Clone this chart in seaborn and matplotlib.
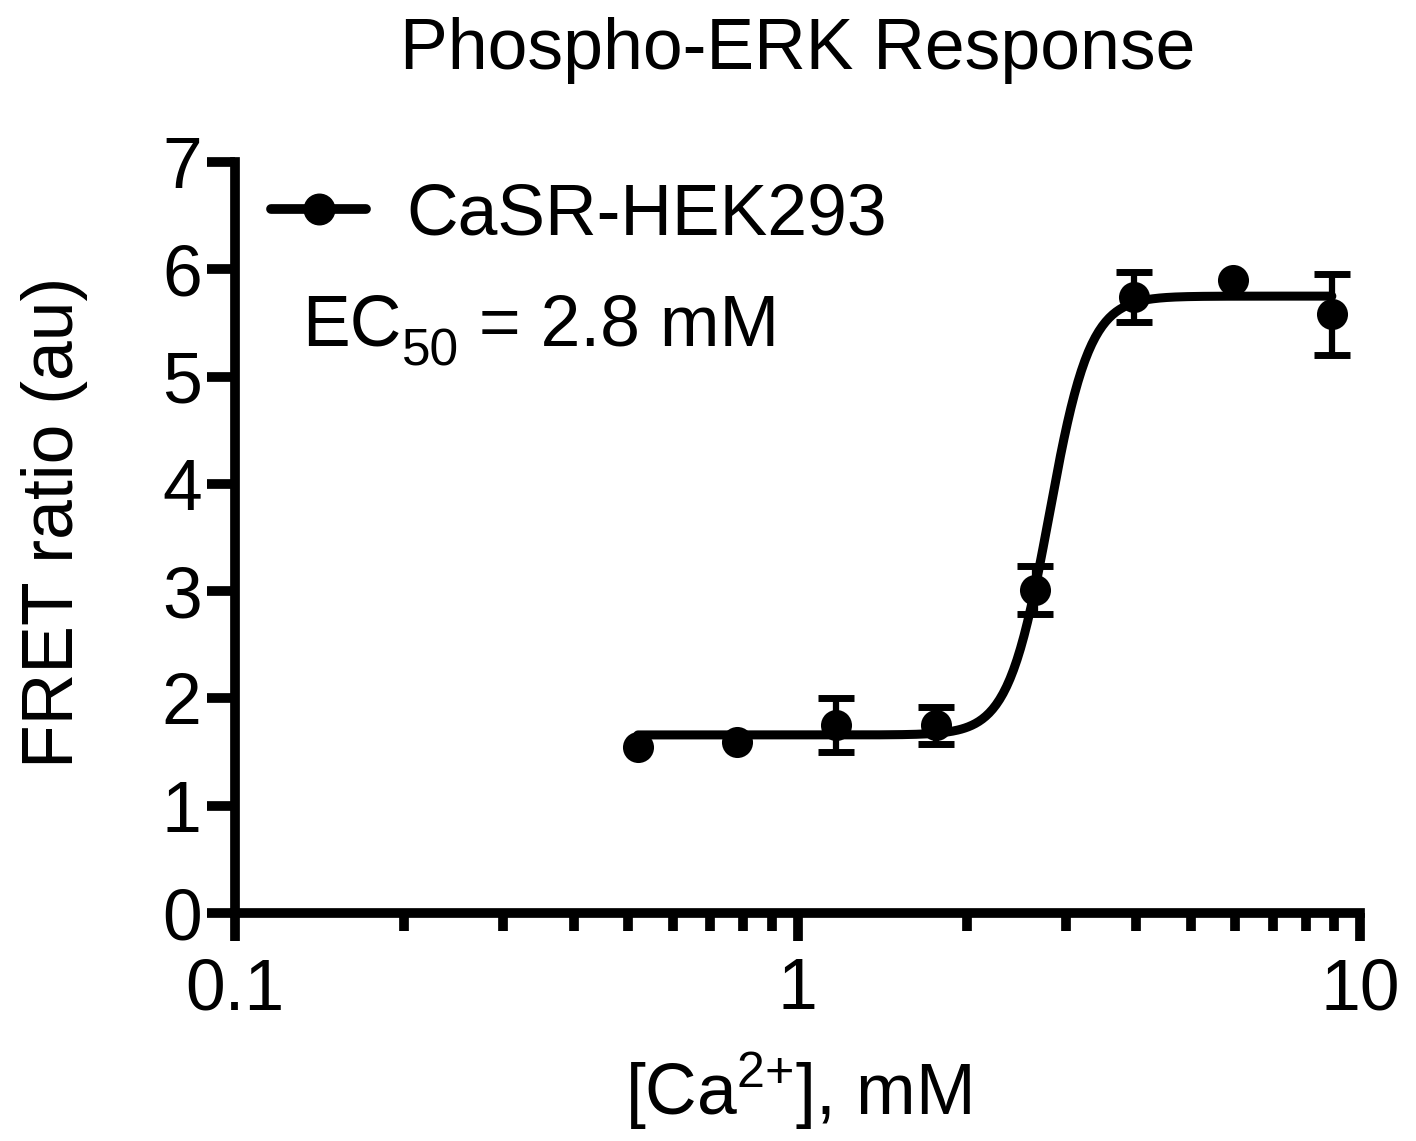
import matplotlib
matplotlib.use("Agg")
import matplotlib.pyplot as plt
import numpy as np
import pandas as pd
import seaborn as sns
from matplotlib.lines import Line2D
from matplotlib.ticker import FixedLocator, LogLocator, NullFormatter
from matplotlib.transforms import offset_copy

# measured points
conc_mM = [0.52, 0.78, 1.17, 1.76, 2.64, 3.96, 5.94, 8.91]
fret_mean = [1.55, 1.59, 1.75, 1.75, 3.01, 5.74, 5.90, 5.58]
fret_sem = [0.0, 0.0, 0.25, 0.17, 0.225, 0.235, 0.0, 0.38]

# 4-parameter logistic fit shown as the solid curve
fit_bottom = 1.66
fit_top = 5.75
fit_ec50 = 2.8
fit_hill = 12.0

series_name = "CaSR-HEK293"
x_ticks = [0.1, 1, 10]
x_ticklabels = ["0.1", "1", "10"]
y_ticks = [0, 1, 2, 3, 4, 5, 6, 7]

sns.set_style("ticks")
plt.rcParams["font.family"] = ["Liberation Sans", "DejaVu Sans"]
plt.rcParams["mathtext.fontset"] = "custom"
plt.rcParams["mathtext.rm"] = "Liberation Sans"
plt.rcParams["mathtext.it"] = "Liberation Sans"
for key in ["text.color", "axes.labelcolor", "xtick.color", "ytick.color"]:
    plt.rcParams[key] = "black"

FS = 51.5
LW = 7

points = pd.DataFrame({"conc": conc_mM, "fret": fret_mean, "sem": fret_sem})
x_fit = np.logspace(np.log10(min(conc_mM)), np.log10(max(conc_mM)), 400)
y_fit = fit_bottom + (fit_top - fit_bottom) / (1 + (fit_ec50 / x_fit) ** fit_hill)
curve = pd.DataFrame({"conc": x_fit, "fret": y_fit})

fig = plt.figure(figsize=(14.16, 11.41), dpi=100)
ax = fig.add_axes([0.166, 0.1998, 0.7945, 0.6582])
ax.set_xscale("log")

sns.lineplot(data=curve, x="conc", y="fret", ax=ax, color="black", lw=6.5,
             solid_capstyle="round")
err = points[points["sem"] > 0]
ax.errorbar(err["conc"], err["fret"], yerr=err["sem"], fmt="none", ecolor="black",
            elinewidth=4.5, capsize=13, capthick=5, zorder=3)
sns.scatterplot(data=points, x="conc", y="fret", ax=ax, color="black", s=500,
                linewidth=0, zorder=4)

ax.set_xlim(0.1, 10)
ax.set_ylim(0, 7)
sns.despine(ax=ax)
for side in ["left", "bottom"]:
    ax.spines[side].set_linewidth(LW)
    ax.spines[side].set_color("black")

ax.xaxis.set_major_locator(FixedLocator(x_ticks))
ax.set_xticklabels(x_ticklabels)
ax.xaxis.set_minor_locator(LogLocator(base=10, subs=np.arange(2, 10)))
ax.xaxis.set_minor_formatter(NullFormatter())
ax.set_yticks(y_ticks)
ax.tick_params(axis="both", which="major", length=20, width=LW, color="black",
               labelsize=FS, direction="out")
ax.tick_params(axis="x", which="major", pad=12)
ax.tick_params(axis="y", which="major", pad=4)
ax.tick_params(axis="x", which="minor", length=13, width=LW, color="black")

ax.set_xlabel("[Ca$^{2{+}}$], mM", fontsize=FS, labelpad=19)
ax.set_ylabel("FRET ratio (au)", fontsize=FS)
ax.yaxis.set_label_coords(-0.131, 0.52)
ax.set_title("Phospho-ERK Response", fontsize=FS, pad=67)

handle = Line2D([], [], color="black", lw=LW, marker="o", markersize=22,
                solid_capstyle="round")
ax.legend([handle], [series_name], loc="upper left", bbox_to_anchor=(0.032, 0.973),
          frameon=False, fontsize=FS, handlelength=1.33, handletextpad=0.56,
          borderpad=0, borderaxespad=0)

# EC50 annotation with a real lowered subscript
renderer = fig.canvas.get_renderer()
dx = 0
for piece, size, dy in [("EC", FS, 0), ("50", 37, -20), (" = 2.8 mM", FS, 0)]:
    t = ax.text(0.06, 0.756, piece, fontsize=size, va="baseline", ha="left",
                transform=offset_copy(ax.transAxes, fig=fig, x=dx, y=dy, units="dots"))
    dx += t.get_window_extent(renderer).width

fig.savefig("out.png", dpi=100)
